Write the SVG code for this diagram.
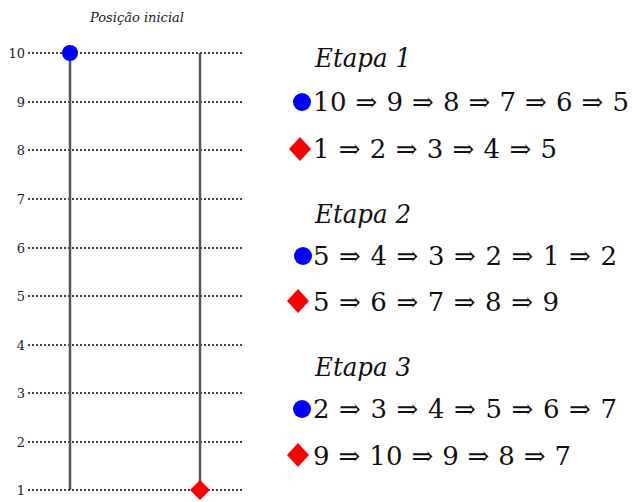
<svg xmlns="http://www.w3.org/2000/svg" width="632" height="502" viewBox="0 0 632 502">
<defs>
<style>
text{font-family:'DejaVu Serif',serif;fill:#111}
.grid{stroke:#444;stroke-width:2;stroke-dasharray:2 2;fill:none}
.post{stroke:#555;stroke-width:2.5;fill:none}
.lab{font-size:13px;fill:#222;text-anchor:end}
.title{font-style:italic;font-size:13px;fill:#222;text-anchor:middle}
.etapa{font-style:italic;font-size:26px}
.seq{font-size:26px}
.blue{fill:#0000ff}
.red{fill:#ff0000}
</style>
</defs>
<rect width="632" height="502" fill="#fff"/>
<text class="title" x="137" y="22">Posição inicial</text>
<g id="grid">
<line class="grid" x1="28" y1="53" x2="244" y2="53"/>
<line class="grid" x1="28" y1="102" x2="244" y2="102"/>
<line class="grid" x1="28" y1="150" x2="244" y2="150"/>
<line class="grid" x1="28" y1="199" x2="244" y2="199"/>
<line class="grid" x1="28" y1="248" x2="244" y2="248"/>
<line class="grid" x1="28" y1="296" x2="244" y2="296"/>
<line class="grid" x1="28" y1="345" x2="244" y2="345"/>
<line class="grid" x1="28" y1="393" x2="244" y2="393"/>
<line class="grid" x1="28" y1="442" x2="244" y2="442"/>
<line class="grid" x1="28" y1="490" x2="244" y2="490"/>
<text class="lab" x="25" y="58">10</text>
<text class="lab" x="25" y="107">9</text>
<text class="lab" x="25" y="155">8</text>
<text class="lab" x="25" y="204">7</text>
<text class="lab" x="25" y="253">6</text>
<text class="lab" x="25" y="301">5</text>
<text class="lab" x="25" y="350">4</text>
<text class="lab" x="25" y="398">3</text>
<text class="lab" x="25" y="447">2</text>
<text class="lab" x="25" y="495">1</text>
</g>
<g id="posts">
<line class="post" x1="70" y1="53" x2="70" y2="490"/>
<line class="post" x1="200" y1="53" x2="200" y2="490"/>
</g>
<g id="pieces">
<circle class="blue" cx="70" cy="53" r="8"/>
<polygon class="red" points="200,480 210,490 200,500 190,490"/>
</g>
<g id="etapa1">
<text class="etapa" x="315" y="67" textLength="96" lengthAdjust="spacingAndGlyphs">Etapa 1</text>
<circle class="blue" cx="302" cy="102" r="9"/>
<text class="seq" x="313" y="111" textLength="316" lengthAdjust="spacing">10 ⇒ 9 ⇒ 8 ⇒ 7 ⇒ 6 ⇒ 5</text>
<polygon class="red" points="300,137 311,149 300,161 289,149"/>
<text class="seq" x="313" y="158" textLength="244" lengthAdjust="spacing">1 ⇒ 2 ⇒ 3 ⇒ 4 ⇒ 5</text>
</g>
<g id="etapa2">
<text class="etapa" x="315" y="223" textLength="96" lengthAdjust="spacingAndGlyphs">Etapa 2</text>
<circle class="blue" cx="303" cy="256" r="9"/>
<text class="seq" x="313" y="265" textLength="304" lengthAdjust="spacing">5 ⇒ 4 ⇒ 3 ⇒ 2 ⇒ 1 ⇒ 2</text>
<polygon class="red" points="298,289 309,301 298,313 287,301"/>
<text class="seq" x="313" y="311" textLength="246" lengthAdjust="spacing">5 ⇒ 6 ⇒ 7 ⇒ 8 ⇒ 9</text>
</g>
<g id="etapa3">
<text class="etapa" x="315" y="376" textLength="96" lengthAdjust="spacingAndGlyphs">Etapa 3</text>
<circle class="blue" cx="302" cy="409" r="9"/>
<text class="seq" x="313" y="418" textLength="304" lengthAdjust="spacing">2 ⇒ 3 ⇒ 4 ⇒ 5 ⇒ 6 ⇒ 7</text>
<polygon class="red" points="298,443 309,455 298,467 287,455"/>
<text class="seq" x="313" y="465" textLength="258" lengthAdjust="spacing">9 ⇒ 10 ⇒ 9 ⇒ 8 ⇒ 7</text>
</g>
</svg>
